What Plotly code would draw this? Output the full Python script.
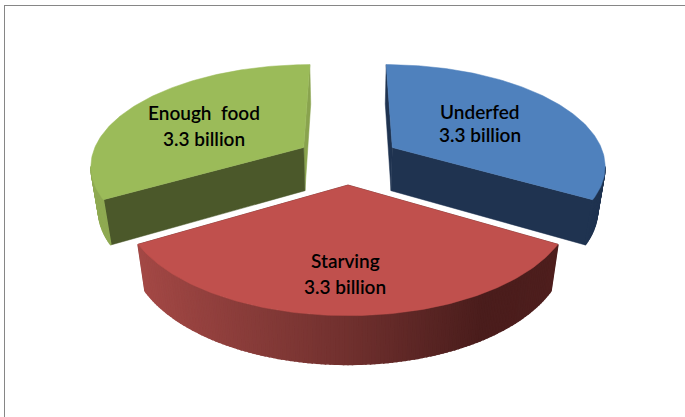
import plotly.graph_objects as go
import numpy as np

# Chart content
categories = ["Underfed", "Starving", "Enough  food"]
values = [3.3, 3.3, 3.3]
value_unit = "billion"
top_colors = ["#4F81BD", "#C0504D", "#9BBB59"]
near_wall_colors = ["#1F3350", "#4A1C1B", "#4B582A"]
far_wall_colors = ["#1F3350", "#4A1C1B", "#89A34E"]
label_positions = [(480, 111, 134), (345, 260, 286), (204, 112, 138)]

WIDTH, HEIGHT = 685, 417

# Pie geometry in plane units (radius = 1) and the perspective camera
EXPLODE = 0.245
CX, CY = 348.0, 159.5
SCALE_X, SCALE_Y = 213.0, 100.0
DEPTH_K = 0.163          # nearer points get larger
THICK_Y = 45.0           # on-screen thickness
THICK_W = 0.03           # the lower rim sits slightly further from the camera


def project(u, v, z=0.0):
    w = 1 - DEPTH_K * v + THICK_W * z
    return CX + SCALE_X * u / w, CY + (SCALE_Y * v + THICK_Y * z) / w


def polygon(xs, ys, color, width=0.5):
    return go.Scatter(
        x=list(xs) + [xs[0]], y=list(ys) + [ys[0]],
        mode="lines", fill="toself", fillcolor=color,
        line=dict(color=color, width=width),
        hoverinfo="skip", showlegend=False,
    )


def mix(stops, t):
    t = min(max(t, 0.0), 1.0)
    pos = [s[0] for s in stops]
    rgb = [np.interp(t, pos, [s[1][i] for s in stops]) for i in range(3)]
    return "rgb(%d,%d,%d)" % tuple(int(round(c)) for c in rgb)


RED_RAMP = [(0.0, (163, 72, 69)), (0.5, (112, 48, 46)), (0.82, (74, 29, 28)), (1.0, (78, 30, 29))]
BLUE_RAMP = [(0.0, (31, 51, 80)), (1.0, (31, 51, 80))]
GREEN_RAMP = [(0.0, (143, 170, 82)), (1.0, (132, 158, 74))]
side_ramps = [BLUE_RAMP, RED_RAMP, GREEN_RAMP]

# Clockwise sweep from twelve o'clock, one wedge per category
total = sum(values)
edges = np.concatenate([[0.0], np.cumsum(values)]) / total * 2 * np.pi

wedges = []
for i in range(len(values)):
    start, end = edges[i], edges[i + 1]
    mid = (start + end) / 2
    ou, ov = EXPLODE * np.sin(mid), -EXPLODE * np.cos(mid)
    theta = np.linspace(start, end, 121)
    wedges.append(dict(i=i, ou=ou, ov=ov,
                       au=ou + np.sin(theta), av=ov - np.cos(theta)))


def wedge_traces(wd):
    out = []
    i = wd["i"]
    ou, ov, au, av = wd["ou"], wd["ov"], wd["au"], wd["av"]

    # Radial walls, the one facing away from the view first
    ends = sorted([(au[0], av[0]), (au[-1], av[-1])], key=lambda p: p[1])
    for (eu, ev), color in zip(ends, (far_wall_colors[i], near_wall_colors[i])):
        a = project(ou, ov)
        b = project(eu, ev)
        c = project(eu, ev, 1)
        d = project(ou, ov, 1)
        out.append(polygon([a[0], b[0], c[0], d[0]], [a[1], b[1], c[1], d[1]], color))

    # Rim, shaded left to right in small facets; only the near part shows
    tx, ty = project(au, av)
    bx, by = project(au, av, 1)
    xmin, xmax = tx.min(), tx.max()
    for k in range(len(tx) - 1):
        if tx[k + 1] >= tx[k]:
            continue
        t = (tx[k] + tx[k + 1]) / 2
        color = mix(side_ramps[i], (t - xmin) / (xmax - xmin))
        out.append(polygon([tx[k], tx[k + 1], bx[k + 1], bx[k]],
                           [ty[k], ty[k + 1], by[k + 1], by[k]], color, width=1.5))

    # Top face
    ax, ay = project(ou, ov)
    out.append(polygon([ax, *tx], [ay, *ty], top_colors[i]))
    return out


fig = go.Figure()
# Far wedges first so the front one overlaps them
for wd in sorted(wedges, key=lambda w: w["ov"]):
    for tr in wedge_traces(wd):
        fig.add_trace(tr)

annotations = []
for name, val, (lx, y1, y2) in zip(categories, values, label_positions):
    for text, y in ((name, y1), (f"{val} {value_unit}", y2)):
        annotations.append(dict(
            x=lx, y=y, text=text, showarrow=False, xanchor="center", yanchor="middle",
            font=dict(family="Lato", size=19, color="#000000", weight=600),
        ))

# Chart frame: only its top and left edges are drawn
frame_color = "#868686"
fig.update_layout(
    width=WIDTH, height=HEIGHT, autosize=False,
    margin=dict(l=0, r=0, t=0, b=0),
    paper_bgcolor="white", plot_bgcolor="white",
    xaxis=dict(range=[0, WIDTH], visible=False, fixedrange=True),
    yaxis=dict(range=[HEIGHT, 0], visible=False, fixedrange=True),
    annotations=annotations,
    shapes=[
        dict(type="line", x0=4, x1=WIDTH, y0=5.5, y1=5.5,
             line=dict(color=frame_color, width=1), layer="below"),
        dict(type="line", x0=4.5, x1=4.5, y0=5, y1=HEIGHT,
             line=dict(color=frame_color, width=1), layer="below"),
    ],
)

fig.write_html("out.html", config=dict(displayModeBar=False))
